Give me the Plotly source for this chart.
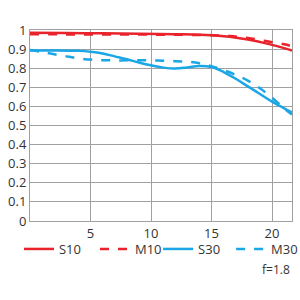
import plotly.graph_objects as go

x_s10 = [0, 3, 6, 9, 12, 15, 16.5, 18, 19.5, 21, 21.65]
s10 = [0.985, 0.984, 0.983, 0.981, 0.978, 0.973, 0.965, 0.95, 0.93, 0.905, 0.892]
x_m10 = [0, 3, 6, 9, 12, 15, 16.5, 18, 19.5, 21, 21.65]
m10 = [0.978, 0.977, 0.976, 0.976, 0.975, 0.973, 0.968, 0.958, 0.942, 0.925, 0.915]
x_s30 = [0, 2, 4, 5, 6, 7, 8, 9, 10, 11, 12, 13, 14, 15, 16, 17, 18, 19, 20, 21, 21.65]
s30 = [0.893, 0.893, 0.891, 0.886, 0.877, 0.862, 0.847, 0.83, 0.815, 0.803, 0.798, 0.804, 0.812, 0.806, 0.78, 0.745, 0.705, 0.665, 0.625, 0.59, 0.568]
x_m30 = [0, 1, 2, 3, 4, 5, 6, 7, 8, 9, 10, 11, 12, 13, 14, 15, 16, 17, 18, 19, 20, 21, 21.65]
m30 = [0.895, 0.885, 0.873, 0.862, 0.852, 0.845, 0.842, 0.841, 0.841, 0.841, 0.841, 0.839, 0.837, 0.834, 0.826, 0.81, 0.79, 0.765, 0.735, 0.695, 0.645, 0.59, 0.557]

x_ticks = [5, 10, 15, 20]
y_ticks = [0, 0.1, 0.2, 0.3, 0.4, 0.5, 0.6, 0.7, 0.8, 0.9, 1]
y_ticklabels = ["0", "0.1", "0.2", "0.3", "0.4", "0.5", "0.6", "0.7", "0.8", "0.9", "1"]

RED = "#e8232b"
BLUE = "#1ba6e6"

fig = go.Figure()
fig.add_trace(go.Scatter(x=x_s10, y=s10, name="S10", mode="lines", legend="legend",
                         line=dict(color=RED, width=2.5, shape="spline")))
fig.add_trace(go.Scatter(x=x_m10, y=m10, name="M10", mode="lines", legend="legend",
                         line=dict(color=RED, width=2.5, dash="dash", shape="spline")))
fig.add_trace(go.Scatter(x=x_s30, y=s30, name="S30", mode="lines", legend="legend2",
                         line=dict(color=BLUE, width=2.5, shape="spline")))
fig.add_trace(go.Scatter(x=x_m30, y=m30, name="M30", mode="lines", legend="legend2",
                         line=dict(color=BLUE, width=2.5, dash="dash", shape="spline")))

legend_common = dict(orientation="h", yanchor="top", y=-0.068,
                     entrywidthmode="pixels",
                     font=dict(size=13, color="#333333"),
                     bgcolor="rgba(0,0,0,0)", tracegroupgap=0)

fig.update_layout(
    width=300, height=300,
    margin=dict(l=30, r=8, t=30, b=79, autoexpand=False),
    paper_bgcolor="white", plot_bgcolor="white",
    font=dict(family="Open Sans, sans-serif", size=13, color="#333333"),
    showlegend=True,
    legend=dict(x=-0.042, xanchor="left", entrywidth=31, **legend_common),
    legend2=dict(x=0.489, xanchor="left", entrywidth=28, **legend_common),
    annotations=[dict(text="f=1.8", xref="paper", yref="paper", x=1.0, y=-0.199,
                      xanchor="right", yanchor="top", showarrow=False,
                      font=dict(size=12, color="#333333"))],
)
fig.update_xaxes(range=[0, 21.65], tickvals=x_ticks, ticktext=[str(v) for v in x_ticks],
                 showgrid=True, gridcolor="#a0a0a0", gridwidth=1,
                 showline=True, linecolor="#a0a0a0", linewidth=1, mirror=True,
                 zeroline=False, ticks="", ticklen=0)
fig.update_yaxes(range=[0, 1], tickvals=y_ticks, ticktext=y_ticklabels,
                 showgrid=True, gridcolor="#a0a0a0", gridwidth=1,
                 showline=True, linecolor="#a0a0a0", linewidth=1, mirror=True,
                 zeroline=False, ticks="", ticklen=0)

fig.write_html("out.html")
